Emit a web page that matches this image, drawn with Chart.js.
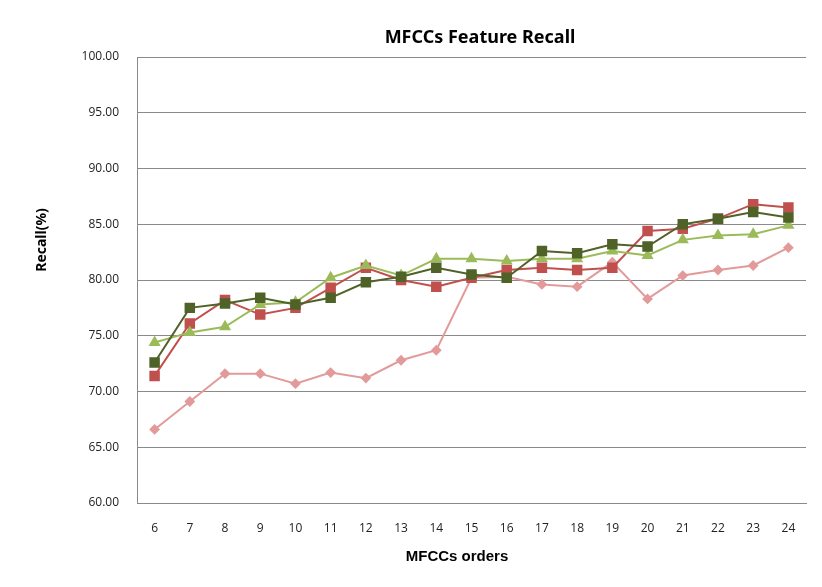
<!DOCTYPE html>
<html>
<head>
<meta charset="utf-8">
<script src="https://cdn.jsdelivr.net/npm/chart.js@4"></script>
<style>
html,body{margin:0;padding:0;background:#fff;}
#wrap{width:822px;height:587px;}
</style>
</head>
<body>
<div id="wrap"><canvas id="c" width="822" height="587"></canvas></div>
<script>
const categories = ['6','7','8','9','10','11','12','13','14','15','16','17','18','19','20','21','22','23','24'];
const seriesDarkGreen = [72.6,77.5,77.9,78.4,77.8,78.4,79.8,80.3,81.1,80.5,80.2,82.6,82.4,83.2,83.0,85.0,85.5,86.1,85.6];
const seriesLightGreen = [74.4,75.3,75.8,77.8,78.0,80.2,81.3,80.4,81.9,81.9,81.7,81.9,81.9,82.6,82.2,83.6,84.0,84.1,84.9];
const seriesRed = [71.4,76.1,78.2,76.9,77.5,79.3,81.1,80.0,79.4,80.2,80.9,81.1,80.9,81.1,84.4,84.6,85.5,86.8,86.5];
const seriesPink = [66.6,69.1,71.6,71.6,70.7,71.7,71.2,72.8,73.7,80.2,80.3,79.6,79.4,81.6,78.3,80.4,80.9,81.3,82.9];
const titleText = 'MFCCs Feature Recall';
const xTitleText = 'MFCCs orders';
const yTitleText = 'Recall(%)';

const titlesPlugin = {
  id: 'titles',
  afterDraw(chart) {
    const ctx = chart.ctx;
    ctx.save();
    ctx.fillStyle = '#000';
    ctx.textAlign = 'center';
    ctx.textBaseline = 'middle';
    ctx.font = 'bold 18px "Noto Sans", "Open Sans", sans-serif';
    ctx.fillText(titleText, 480, 38);
    ctx.font = 'bold 15px "Liberation Sans", Arial, sans-serif';
    ctx.fillText(xTitleText, 457, 557);
    ctx.translate(42, 240);
    ctx.rotate(-Math.PI / 2);
    ctx.font = 'bold 14px "Noto Sans", "Open Sans", sans-serif';
    ctx.fillText(yTitleText, 0, 0);
    ctx.restore();
  }
};

new Chart(document.getElementById('c'), {
  type: 'line',
  data: {
    labels: categories,
    datasets: [
      { label: 'A', data: seriesDarkGreen, borderColor: '#4F6228', backgroundColor: '#4F6228', pointStyle: 'rect', pointRadius: 6, borderWidth: 2, tension: 0, order: 1 },
      { label: 'B', data: seriesLightGreen, borderColor: '#9BBB59', backgroundColor: '#9BBB59', pointStyle: 'triangle', pointRadius: 5, borderWidth: 2, tension: 0, order: 2 },
      { label: 'C', data: seriesRed, borderColor: '#C0504D', backgroundColor: '#C0504D', pointStyle: 'rect', pointRadius: 6, borderWidth: 2, tension: 0, order: 3 },
      { label: 'D', data: seriesPink, borderColor: '#E29A9A', backgroundColor: '#E29A9A', pointStyle: 'rectRot', pointRadius: 4, borderWidth: 2, tension: 0, order: 4 }
    ]
  },
  options: {
    responsive: false,
    animation: false,
    layout: { padding: { top: 57, right: 16, left: 0, bottom: 0 } },
    plugins: { legend: { display: false }, title: { display: false }, tooltip: { enabled: false } },
    scales: {
      x: {
        offset: true,
        grid: { display: false, drawTicks: false },
        border: { display: true, color: '#8a8a8a', width: 1 },
        ticks: { color: '#222', padding: 18, font: { family: '"Open Sans", "Noto Sans", sans-serif', size: 12 }, maxRotation: 0, autoSkip: false },
        afterFit(scale) { scale.height = 84; }
      },
      y: {
        min: 60, max: 100,
        ticks: { stepSize: 5, color: '#222', padding: 18, font: { family: '"Open Sans", "Noto Sans", sans-serif', size: 12 }, callback: v => Number(v).toFixed(2) },
        grid: { color: '#8a8a8a', lineWidth: 1, drawTicks: false },
        border: { display: true, color: '#8a8a8a', width: 1 },
        afterFit(scale) { scale.width = 137; }
      }
    }
  },
  plugins: [titlesPlugin]
});
</script>
</body>
</html>
